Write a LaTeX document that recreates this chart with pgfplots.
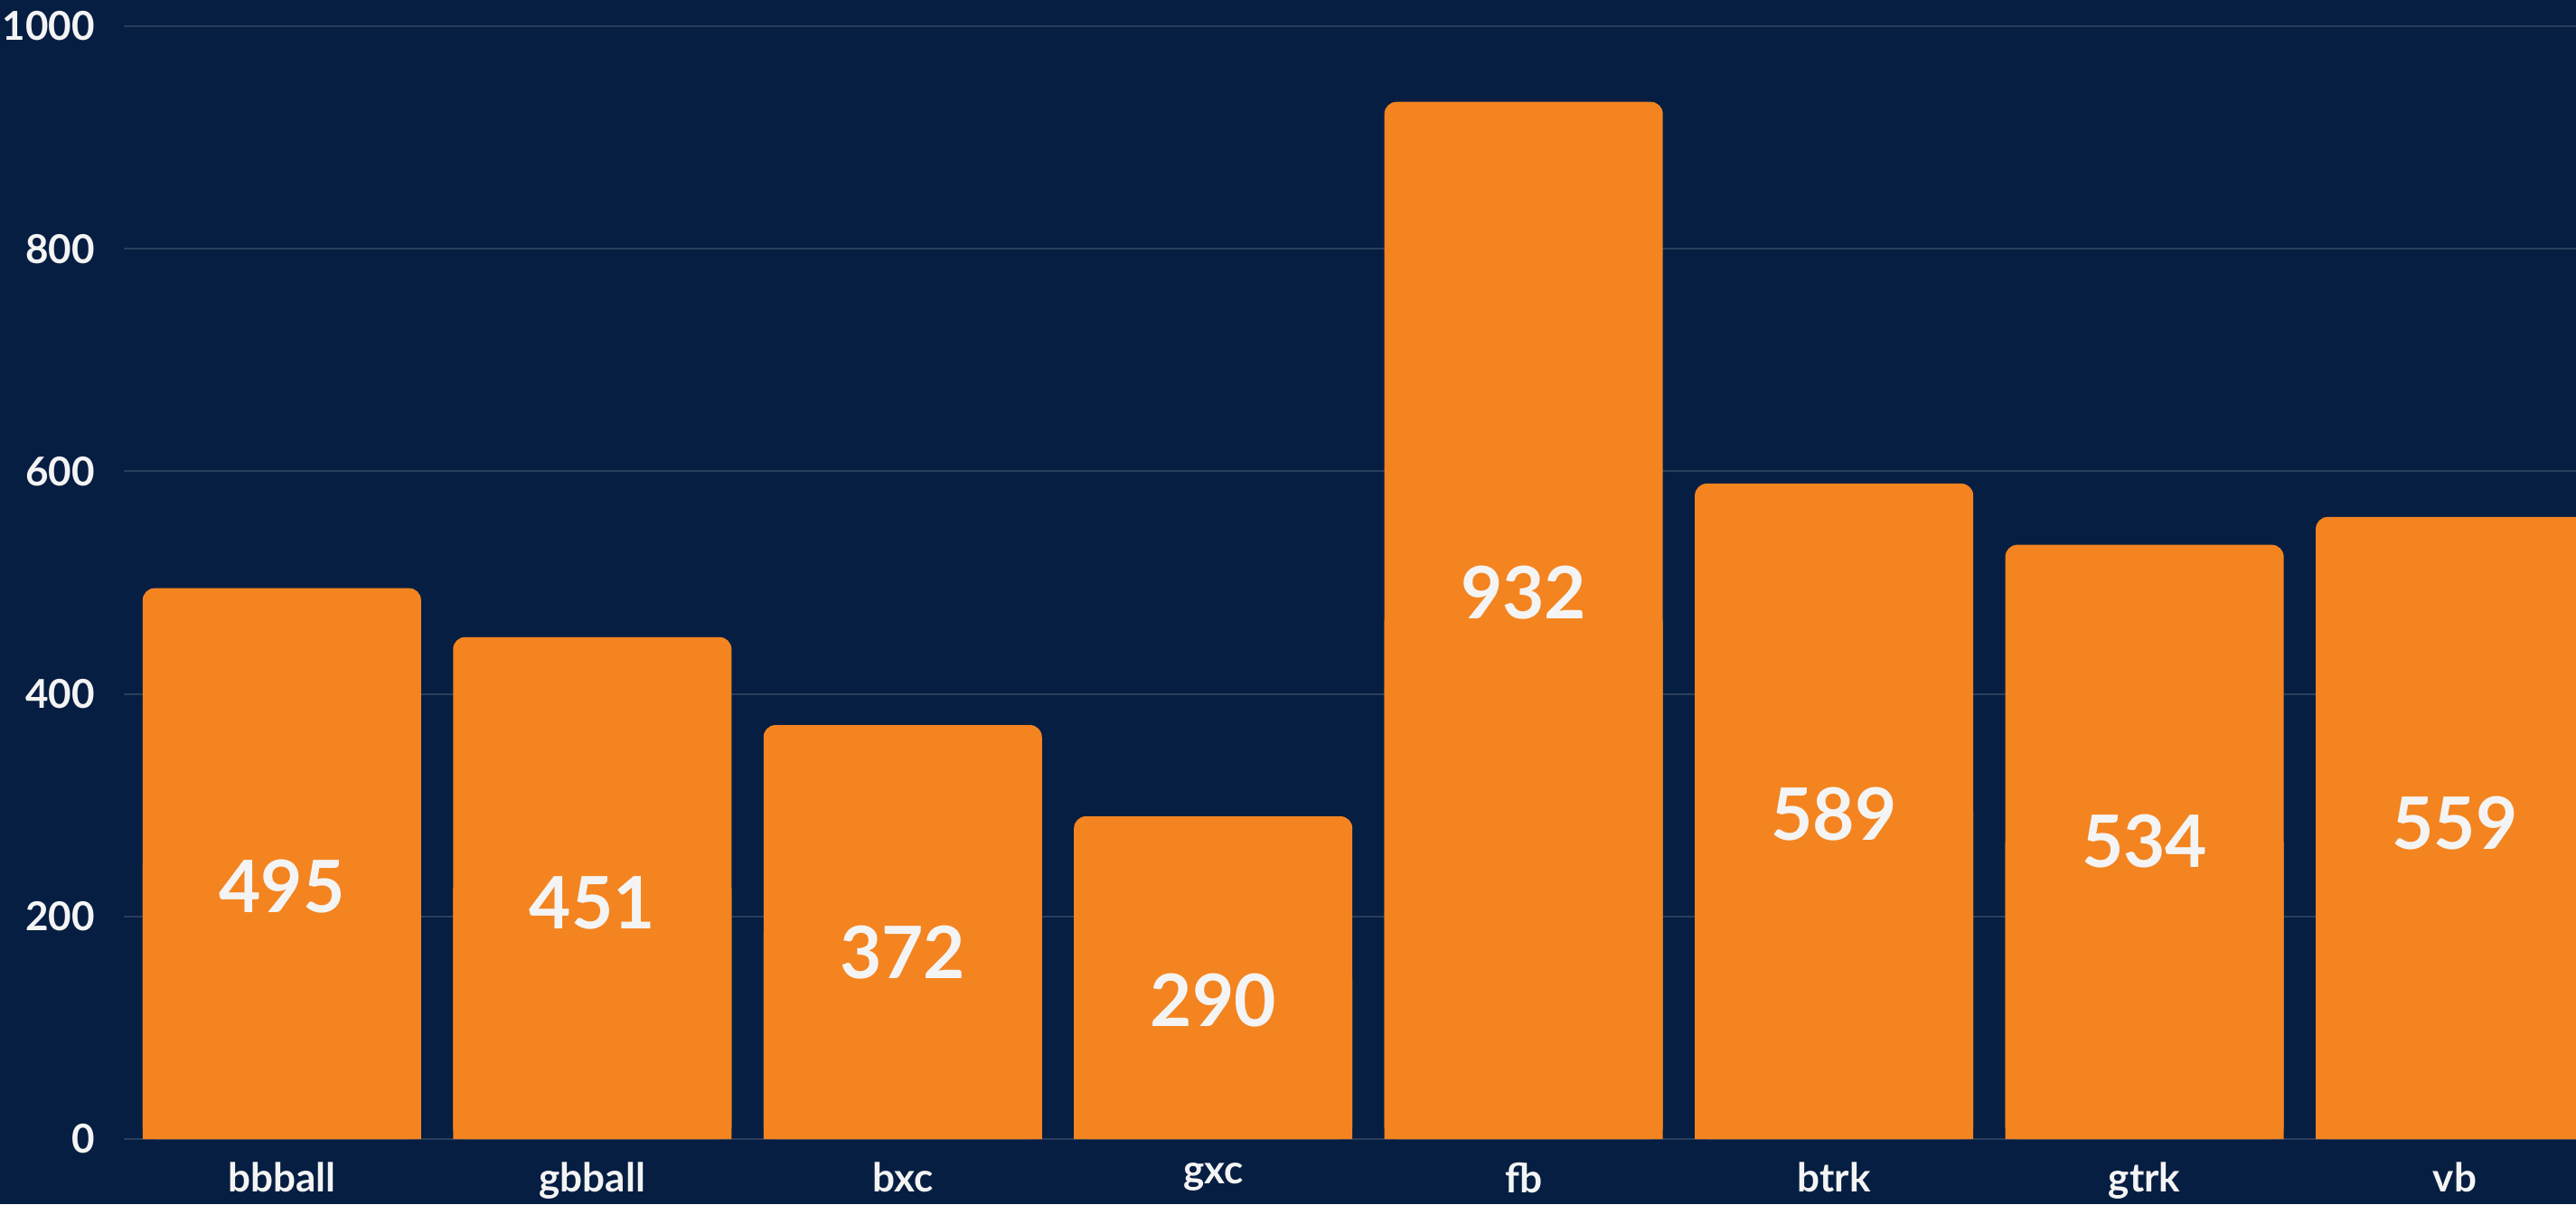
\documentclass[border=0pt]{standalone}
\usepackage{pgfplots}
\pgfplotsset{compat=1.18}
\usepackage{pgfplotstable}
\usepackage{fontspec}
\setmainfont{Lato}
\definecolor{bg}{HTML}{061E42}
\definecolor{barc}{HTML}{F38420}
\definecolor{gridc}{HTML}{2A3E5C}
\definecolor{txt}{HTML}{F4F4F4}

\pgfplotstableread{
x v ly
0 495 227
1 451 212
2 372 168
3 290 125
4 932 491
5 589 292
6 534 268
7 559 284
}\data

\begin{document}
\begin{tikzpicture}
\fill[bg] (-34.25pt,-18pt) rectangle (678.25pt,315pt);
\useasboundingbox (-34.25pt,-18pt) rectangle (678.25pt,315pt);
\begin{axis}[
  at={(0pt,0pt)}, anchor=south west,
  scale only axis, width=678.25pt, height=307.75pt,
  xmin=-0.509, xmax=7.39, ymin=0, ymax=1000,
  axis line style={draw=none},
  tick style={draw=none},
  ytick={0,200,400,600,800,1000},
  xtick={0,1,2,3,4,5,6,7},
  xticklabels={bbball,gbball,bxc,gxc,fb,btrk,gtrk,vb},
  ymajorgrids,
  grid style={draw=gridc, line width=0.5pt},
  ticklabel style={font=\bfseries\fontsize{11}{13}\selectfont, text=txt},
  yticklabel style={xshift=-4.5pt},
  xticklabel style={yshift=-3pt},
  /pgf/number format/assume math mode=true,
  /pgf/number format/1000 sep={},
  clip=true,
]
\addplot[ybar, bar shift=0pt, bar width=77pt, fill=barc, draw=none, rounded corners=3.3pt]
  table[x=x, y=v]{\data};
\addplot[ybar, bar shift=0pt, bar width=77pt, fill=barc, draw=none, forget plot]
  table[x=x, y expr=\thisrow{v}/2]{\data};
\addplot[draw=none, mark=none, nodes near coords, point meta=explicit symbolic,
  nodes near coords style={font=\bfseries\fontsize{20}{22}\selectfont, text=txt, anchor=center}]
  table[x=x, y=ly, meta=v]{\data};
\end{axis}
\end{tikzpicture}
\end{document}
